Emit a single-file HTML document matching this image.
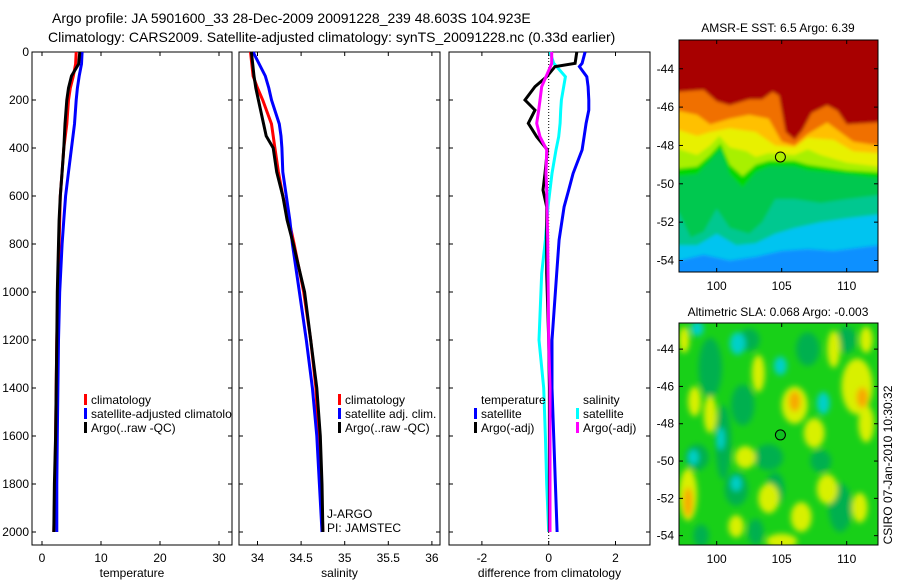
<!DOCTYPE html>
<html><head><meta charset="utf-8">
<style>
html,body{margin:0;padding:0;background:#fff;}
svg{display:block;font-family:"Liberation Sans",sans-serif;}
</style></head>
<body>
<svg id="fig" width="900" height="580" viewBox="0 0 900 580" xmlns="http://www.w3.org/2000/svg">
<defs>
<filter id="blur" x="-20%" y="-20%" width="140%" height="140%"><feGaussianBlur stdDeviation="3"/></filter>
<filter id="blur2" x="-5%" y="-5%" width="110%" height="110%"><feGaussianBlur stdDeviation="1.5"/></filter>
</defs>
<text x="52" y="23" font-size="14">Argo profile: JA 5901600_33 28-Dec-2009 20091228_239 48.603S 104.923E</text>
<text x="48" y="42" font-size="14">Climatology: CARS2009. Satellite-adjusted climatology: synTS_20091228.nc (0.33d earlier)</text>
<text x="778" y="32" font-size="12" text-anchor="middle">AMSR-E SST: 6.5 Argo: 6.39</text>
<text x="778" y="316" font-size="12" text-anchor="middle">Altimetric SLA: 0.068 Argo: -0.003</text>
<text transform="translate(892,465) rotate(-90)" font-size="12" text-anchor="middle">CSIRO 07-Jan-2010 10:30:32</text>
<g id="layer"></g>
</svg>
<script>
const depths = [0,50,100,150,200,300,400,500,600,700,800,1000,1200,1400,1600,1800,2000];
const tempClim = [5.8,5.7,5.3,4.8,4.5,4.2,3.7,3.4,3.1,3.0,2.9,2.7,2.5,2.4,2.3,2.2,2.0];
const tempSat  = [6.8,6.7,6.3,6.0,5.8,5.5,5.0,4.5,4.0,3.7,3.4,3.0,2.8,2.7,2.6,2.5,2.5];
const tempArgo = [6.4,6.2,5.0,4.5,4.2,3.9,3.7,3.4,3.1,2.9,2.8,2.6,2.5,2.4,2.3,2.1,2.0];
const salDepths = [0,100,150,200,300,350,400,500,600,700,800,1000,1200,1400,1600,1800,2000];
const salClim = [33.92,33.95,34.0,34.06,34.16,34.18,34.2,34.24,34.29,34.36,34.42,34.53,34.61,34.67,34.70,34.73,34.75];
const salSat  = [33.95,34.09,34.13,34.16,34.25,34.27,34.28,34.29,34.33,34.37,34.40,34.48,34.56,34.63,34.68,34.71,34.74];
const salArgo = [33.93,33.96,33.98,34.01,34.07,34.10,34.18,34.22,34.29,34.34,34.41,34.54,34.61,34.68,34.72,34.74,34.75];
const diffDepths = [0,47,61,103,144,200,242,297,353,408,506,575,645,783,922,1200,1400,1600,1800,2000];
const diffTempSat  = [1.09,1.0,0.92,1.14,1.18,1.2,1.2,1.12,1.06,1.0,0.73,0.6,0.46,0.31,0.24,0.1,0.1,0.15,0.2,0.25];
const diffTempArgo = [0.84,0.79,0.19,-0.06,-0.41,-0.71,-0.41,-0.61,-0.36,-0.04,-0.11,-0.17,-0.06,-0.06,-0.06,0.0,0.02,0.02,0.02,0.02];
const diffSalSat   = [0.04,0.15,0.24,0.5,0.45,0.38,0.36,0.34,0.3,0.22,0.1,0.04,-0.02,-0.1,-0.21,-0.29,-0.15,-0.1,-0.06,0.0];
const diffSalArgo  = [0.09,0.09,0.05,-0.08,-0.21,-0.26,-0.3,-0.36,-0.26,-0.06,-0.08,-0.06,-0.05,-0.03,-0.02,0.0,0.04,0.04,0.04,0.04];
const depthTicks = [0,200,400,600,800,1000,1200,1400,1600,1800,2000];
const tempTicks = [0,10,20,30];
const salTicks = [34,34.5,35,35.5,36];
const salTickLabels = ["34","34.5","35","35.5","36"];
const diffTicks = [-2,0,2];
const latTicks = [-44,-46,-48,-50,-52,-54];
const lonTicks = [100,105,110];

const NS="http://www.w3.org/2000/svg";
const L=document.getElementById('layer');
function mk(tag,attrs,parent){const e=document.createElementNS(NS,tag);for(const k in attrs)e.setAttribute(k,attrs[k]);(parent||L).appendChild(e);return e;}
const yD = d => 52 + 0.24*d;
const Y0=52, Y1=545;

function panel(x0,x1,xf,xt,xtl,title,name){
  const g=mk('g',{});
  
  
  mk('rect',{x:x0,y:Y0,width:x1-x0,height:Y1-Y0,fill:'#fff',stroke:'#000','stroke-width':1},g);
  depthTicks.forEach(d=>{const y=yD(d);
    mk('line',{x1:x0,y1:y,x2:x0+4,y2:y,stroke:'#000'},g);
    mk('line',{x1:x1,y1:y,x2:x1-4,y2:y,stroke:'#000'},g);
    if(name==='temperature-panel'){const t=mk('text',{x:x0-3,y:y+4,'font-size':12,'text-anchor':'end'},g);t.textContent=d;}
  });
  xt.forEach((v,i)=>{const x=xf(v);
    mk('line',{x1:x,y1:Y0,x2:x,y2:Y0+4,stroke:'#000'},g);
    mk('line',{x1:x,y1:Y1,x2:x,y2:Y1-4,stroke:'#000'},g);
    const t=mk('text',{x:x,y:562,'font-size':12,'text-anchor':'middle'},g);t.textContent=xtl[i];
  });
  const t=mk('text',{x:(x0+x1)/2,y:577,'font-size':12,'text-anchor':'middle'},g);t.textContent=title;
  return g;
}
function series(xf,ds,vs,color,name){
  let d='';ds.forEach((dep,i)=>{d+=(i?'L':'M')+xf(vs[i]).toFixed(1)+','+yD(dep).toFixed(1);});
  const p=mk('path',{d:d,fill:'none',stroke:color,'stroke-width':3,'stroke-linejoin':'miter'});
  
  
  return p;
}
function legend(x,y,color,label,name){
  mk('rect',{x:x,y:y-10,width:3,height:11,fill:color});
  const t=mk('text',{x:x+7,y:y,'font-size':12});
  t.textContent=label;
  
  
  return t;
}

const xT=v=>42+5.9*v;
panel(32,232,xT,tempTicks,tempTicks.map(String),'temperature','temperature-panel');
mk('clipPath',{id:'c1'});document.getElementById('c1').appendChild(mk('rect',{x:32,y:52,width:200,height:493}));
series(xT,depths,tempClim,'#f00','temp-climatology-line');
series(xT,depths,tempSat,'#00f','temp-satellite-line');
series(xT,depths,tempArgo,'#000','temp-argo-line');
const lg1=mk('g',{'clip-path':'url(#c1)'});
legend(84,404,'#f00','climatology','legend-climatology');
legend(84,418,'#00f','satellite-adjusted climatology','legend-satellite-adjusted');
legend(84,432,'#000','Argo(..raw -QC)','legend-argo');
L.querySelectorAll('rect[x="84"],text[x="91"]').forEach(e=>lg1.appendChild(e));

const xS=v=>257.5+87.2*(v-34);
panel(239,440,xS,salTicks,salTickLabels,'salinity','salinity-panel');
series(xS,salDepths,salClim,'#f00','sal-climatology-line');
series(xS,salDepths,salSat,'#00f','sal-satellite-line');
series(xS,salDepths,salArgo,'#000','sal-argo-line');
legend(338,404,'#f00','climatology','legend2-climatology');
legend(338,418,'#00f','satellite adj. clim.','legend2-satellite');
legend(338,432,'#000','Argo(..raw -QC)','legend2-argo');
let tj=mk('text',{x:327,y:518,'font-size':12});tj.textContent='J-ARGO';


let tp=mk('text',{x:327,y:532,'font-size':12});tp.textContent='PI: JAMSTEC';



const xDf=v=>548.7+33.4*v;
panel(449,650,xDf,diffTicks,diffTicks.map(String),'difference from climatology','difference-panel');
mk('line',{x1:xDf(0),y1:Y0,x2:xDf(0),y2:Y1,stroke:'#000','stroke-width':1,'stroke-dasharray':'1,2'});
series(xDf,diffDepths,diffTempSat,'#00f','diff-temp-satellite-line');
series(xDf,diffDepths,diffSalSat,'#0ff','diff-sal-satellite-line');
series(xDf,diffDepths,diffTempArgo,'#000','diff-temp-argo-line');
series(xDf,diffDepths,diffSalArgo,'#f0f','diff-sal-argo-line');
let tt=mk('text',{x:481,y:404,'font-size':12});tt.textContent='temperature';


let ts=mk('text',{x:583,y:404,'font-size':12});ts.textContent='salinity';


legend(474,418,'#00f','satellite','legend3-temp-satellite');
legend(474,432,'#000','Argo(-adj)','legend3-temp-argo');
legend(576,418,'#0ff','satellite','legend3-sal-satellite');
legend(576,432,'#f0f','Argo(-adj)','legend3-sal-argo');

const MX0=679,MX1=878;
const lonX=lo=>MX0+(lo-97.1)*13;
function mapAxes(top,bot,latTop,latBot,name,drawFn){
  const ly=la=>top+(la-latTop)/(latBot-latTop)*(bot-top);
  const g=mk('g',{});
  
  
  const cid='clip'+name;
  const cp=mk('clipPath',{id:cid},g);mk('rect',{x:MX0,y:top,width:MX1-MX0,height:bot-top},cp);
  const inner=mk('g',{'clip-path':'url(#'+cid+')'},g);
  drawFn(inner,ly);
  mk('rect',{x:MX0,y:top,width:MX1-MX0,height:bot-top,fill:'none',stroke:'#000'},g);
  latTicks.forEach(la=>{const y=ly(la);
    mk('line',{x1:MX0,y1:y,x2:MX0+4,y2:y,stroke:'#000'},g);
    mk('line',{x1:MX1,y1:y,x2:MX1-4,y2:y,stroke:'#000'},g);
    const t=mk('text',{x:MX0-5,y:y+4,'font-size':12,'text-anchor':'end'},g);t.textContent=la;});
  lonTicks.forEach(lo=>{const x=lonX(lo);
    mk('line',{x1:x,y1:top,x2:x,y2:top+4,stroke:'#000'},g);
    mk('line',{x1:x,y1:bot,x2:x,y2:bot-4,stroke:'#000'},g);
    const t=mk('text',{x:x,y:bot+18,'font-size':12,'text-anchor':'middle'},g);t.textContent=lo;});
  return ly;
}
const sstBands=[
 ['#00c4f0',[[97.1,-54],[99,-53.7],[101,-54],[103,-53.8],[105,-53.5],[107,-53.4],[109,-53.5],[112.4,-53.2]]],
 ['#00c890',[[97.1,-53.2],[98.5,-53.2],[100,-52.6],[101.5,-53.2],[103,-53.1],[104.5,-52.6],[106,-52.3],[108,-52],[110,-51.8],[112.4,-51.6]]],
 ['#00c850',[[97.1,-51.5],[98,-52.8],[99,-52.5],[100,-51.3],[101,-52.3],[102.5,-52.6],[103.5,-52],[104.5,-50.8],[106,-50.8],[108,-51],[110,-50.8],[112.4,-50.6]]],
 ['#00d800',[[97.1,-49.6],[98.5,-49.5],[99.5,-48.8],[100.3,-48.2],[101,-49.5],[102,-50.2],[103,-49.4],[104,-49.1],[106,-49.1],[107,-49.3],[110,-49.5],[112.4,-49.7]]],
 ['#a8f000',[[97.1,-49.2],[98.5,-49.1],[99.5,-48.5],[100.3,-47.9],[101,-49.0],[102,-49.6],[103,-49.0],[104,-48.8],[106,-48.8],[107,-49.0],[110,-49.3],[112.4,-49.4]]],
 ['#e8f000',[[97.1,-48.2],[98.5,-48.5],[99.5,-48.0],[100.2,-47.5],[101,-48.1],[102.3,-48.3],[103,-48.6],[104,-48.4],[106,-48.5],[107,-48.2],[108,-48.5],[110,-48.9],[112.4,-49.1]]],
 ['#ffc000',[[97.1,-47.2],[98.5,-47.5],[99.5,-47.3],[101,-47.1],[103,-47.3],[104.5,-48.0],[106,-48.1],[107,-47.6],[109,-47.7],[110.5,-48.3],[112.4,-48.4]]],
 ['#f07000',[[97.1,-46.2],[98.5,-46.4],[99.5,-46.9],[101,-46.6],[102.5,-46.4],[104,-46.6],[105,-47.8],[106,-48.0],[107,-47.4],[108.5,-46.8],[109.5,-47.3],[110.5,-47.8],[112.4,-48.0]]],
 ['#a80000',[[97.1,-45.2],[99,-45.1],[100,-45.7],[101,-45.9],[102.5,-45.6],[103.5,-45.6],[104.3,-45.2],[104.8,-45.4],[105.3,-47.3],[106,-47.7],[106.6,-47.2],[107.3,-46.3],[108.5,-45.9],[109.3,-46.2],[110,-46.9],[112.4,-46.8]]]
];
mapAxes(40,272,-42.5,-54.6,'sst-map',(g,ly)=>{
  const b=mk('g',{filter:'url(#blur2)'},g);
  mk('rect',{x:MX0-10,y:30,width:MX1-MX0+20,height:252,fill:'#1090ff'},b);
  sstBands.forEach(([c,pts])=>{
    let d='M'+lonX(96)+','+ly(-42)+' L'+lonX(96)+','+ly(pts[0][1]);
    pts.forEach(p=>{d+=' L'+lonX(p[0]).toFixed(1)+','+ly(p[1]).toFixed(1);});
    d+=' L'+lonX(113.5)+','+ly(pts[pts.length-1][1])+' L'+lonX(113.5)+','+ly(-42)+'Z';
    mk('path',{d:d,fill:c},b);
  });
  const c=mk('circle',{cx:lonX(104.9),cy:ly(-48.6),r:5,fill:'#b0f000',stroke:'#000'},g);
  
  
});
const slaYellow=[[97.8,-51.8,0.7,1.4],[99.5,-47.5,0.5,1.0],[102.2,-49.8,0.8,0.6],[103.2,-45.3,0.5,1.0],[106,-47,1.0,1.0],[107.5,-48.5,0.8,0.8],[110.8,-46,1.2,1.5],[111.5,-48,0.6,1.0],[104,-52,0.8,0.8],[106.5,-53,0.8,0.8],[101.5,-53.5,0.6,0.6],[108.5,-51.5,0.8,0.8],[97.5,-43.5,0.4,0.7],[111.5,-43.5,0.5,0.7],[105,-54.3,1.2,0.4],[109,-44,0.5,1.0],[98.3,-46.8,0.5,0.8],[111,-52.5,0.6,0.8]];
const slaOrange=[[106,-46.8,0.45,0.55],[111.2,-46.6,0.45,0.55],[97.8,-52.2,0.35,0.8]];
const slaDark=[[99.5,-45,0.9,1.6],[100.5,-49,0.6,2],[102,-47,0.9,1.1],[104,-49.8,1.1,0.7],[98.5,-49.8,0.9,0.7],[101.5,-51.5,0.9,0.9],[104.5,-51.5,0.7,0.9],[109.5,-52.5,0.9,1.3],[103,-53.8,0.6,0.7],[107,-44,0.9,0.9],[110,-43.5,0.7,0.7],[98.8,-54,0.6,0.6],[108,-50,0.8,0.6],[102.5,-43.5,0.8,0.6]];
const slaCyan=[[98.5,-42.9,0.5,0.4],[101.6,-43.7,0.6,0.6],[104.9,-44.9,0.5,0.5],[108.2,-46.9,0.5,0.6],[100.3,-48.8,0.3,0.6],[98.2,-49.8,0.4,0.4],[101.5,-51.2,0.4,0.4]];
mapAxes(323,545,-42.6,-54.5,'sla-map',(g,ly)=>{
  mk('rect',{x:MX0,y:323,width:MX1-MX0,height:222,fill:'#18d018'},g);
  const b=mk('g',{filter:'url(#blur)'},g);
  const dy=(545-323)/(54.5-42.6);
  const draw=(arr,col)=>arr.forEach(e=>mk('ellipse',{cx:lonX(e[0]),cy:ly(e[1]),rx:e[2]*13,ry:e[3]*dy,fill:col},b));
  draw(slaDark,'#00b050');draw(slaYellow,'#d8f000');draw(slaOrange,'#f8a800');draw(slaCyan,'#00d0c8');
  const c=mk('circle',{cx:lonX(104.9),cy:ly(-48.6),r:5,fill:'#10c020',stroke:'#000'},g);
  
  
});
</script>
</body></html>
